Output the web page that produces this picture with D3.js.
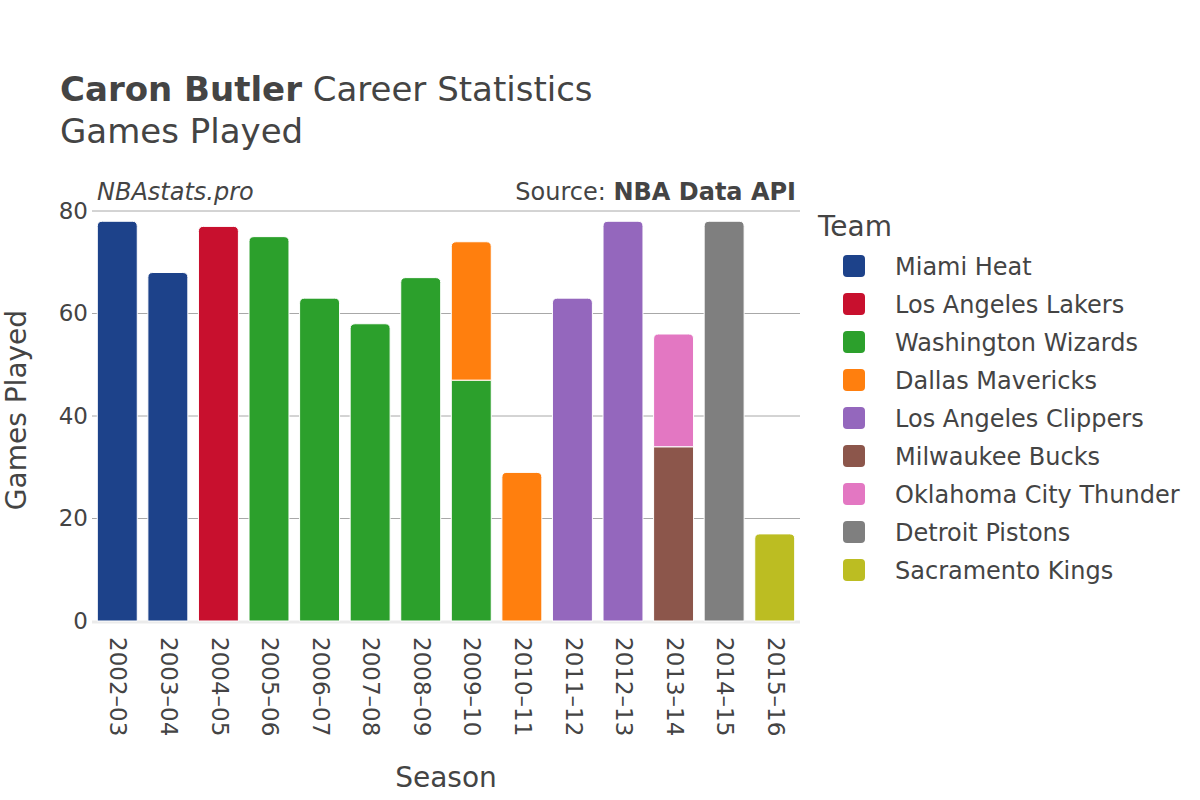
<!DOCTYPE html>
<html>
<head>
<meta charset="utf-8">
<script src="https://cdn.jsdelivr.net/npm/d3@7"></script>
<style>
  body { margin: 0; background: #fff; }
  text { font-family: "DejaVu Sans", sans-serif; fill: #444; }
</style>
</head>
<body>
<svg id="chart" width="1200" height="800"></svg>
<script>
// seasons on the x axis
var seasons = ["2002–03", "2003–04", "2004–05", "2005–06", "2006–07", "2007–08", "2008–09",
               "2009–10", "2010–11", "2011–12", "2012–13", "2013–14", "2014–15", "2015–16"];

var teams = ["Miami Heat", "Los Angeles Lakers", "Washington Wizards", "Dallas Mavericks",
             "Los Angeles Clippers", "Milwaukee Bucks", "Oklahoma City Thunder",
             "Detroit Pistons", "Sacramento Kings"];

var teamColors = ["#1d428a", "#c8102e", "#2ca02c", "#ff7f0e", "#9467bd",
                  "#8c564b", "#e377c2", "#7f7f7f", "#bcbd22"];

// games played per season, one array per team
var miamiHeat      = [78, 68, 0, 0, 0, 0, 0, 0, 0, 0, 0, 0, 0, 0];
var laLakers       = [0, 0, 77, 0, 0, 0, 0, 0, 0, 0, 0, 0, 0, 0];
var wizards        = [0, 0, 0, 75, 63, 58, 67, 47, 0, 0, 0, 0, 0, 0];
var mavericks      = [0, 0, 0, 0, 0, 0, 0, 27, 29, 0, 0, 0, 0, 0];
var clippers       = [0, 0, 0, 0, 0, 0, 0, 0, 0, 63, 78, 0, 0, 0];
var bucks          = [0, 0, 0, 0, 0, 0, 0, 0, 0, 0, 0, 34, 0, 0];
var thunder        = [0, 0, 0, 0, 0, 0, 0, 0, 0, 0, 0, 22, 0, 0];
var pistons        = [0, 0, 0, 0, 0, 0, 0, 0, 0, 0, 0, 0, 78, 0];
var kings          = [0, 0, 0, 0, 0, 0, 0, 0, 0, 0, 0, 0, 0, 17];

var yTicks = [0, 20, 40, 60, 80];

var teamGames = [miamiHeat, laLakers, wizards, mavericks, clippers, bucks, thunder, pistons, kings];

// build rows for d3.stack
var rows = seasons.map(function(s, i) {
    var r = { season: s };
    teams.forEach(function(t, j) { r[t] = teamGames[j][i]; });
    return r;
});

var svg = d3.select("#chart");
var plotLeft = 92, plotRight = 800, plotTop = 211, plotBottom = 621;

var x = d3.scaleBand().domain(seasons).range([plotLeft, plotRight]).paddingInner(0.21).paddingOuter(0.105);
var y = d3.scaleLinear().domain([0, 80]).range([plotBottom, plotTop]);
var color = d3.scaleOrdinal().domain(teams).range(teamColors);

// grid lines
svg.append("g").selectAll("line")
    .data(yTicks.filter(function(d) { return d > 0; }))
    .enter().append("line")
    .attr("x1", plotLeft).attr("x2", plotRight)
    .attr("y1", function(d) { return y(d); })
    .attr("y2", function(d) { return y(d); })
    .attr("stroke", "#a8a8a8").attr("stroke-width", 1);

// zero line
svg.append("line")
    .attr("x1", plotLeft).attr("x2", plotRight)
    .attr("y1", y(0) + 1).attr("y2", y(0) + 1)
    .attr("stroke", "#ebebeb").attr("stroke-width", 3);

// y axis
var yAxis = svg.append("g")
    .attr("transform", "translate(" + plotLeft + ",0)")
    .call(d3.axisLeft(y).tickValues(yTicks).tickSize(0).tickPadding(4));
yAxis.select(".domain").remove();
yAxis.selectAll("text").style("font-size", "23px").attr("fill", "#444")
    .style("font-family", '"DejaVu Sans", sans-serif');

// stacked bars
var stack = d3.stack().keys(teams);
var series = stack(rows);

// find topmost non-zero team per season so only it gets rounded corners
var topTeam = seasons.map(function(s, i) {
    var last = -1;
    teams.forEach(function(t, j) { if (teamGames[j][i] > 0) last = j; });
    return last;
});

function barPath(x0, w, y0, y1, rounded) {
    var r = rounded ? Math.min(5, w / 2, (y0 - y1)) : 0;
    return "M" + x0 + "," + y0 +
        "V" + (y1 + r) +
        (r ? "Q" + x0 + "," + y1 + " " + (x0 + r) + "," + y1 : "") +
        "H" + (x0 + w - r) +
        (r ? "Q" + (x0 + w) + "," + y1 + " " + (x0 + w) + "," + (y1 + r) : "") +
        "V" + y0 + "Z";
}

svg.append("g").selectAll("g")
    .data(series)
    .enter().append("g")
    .attr("fill", function(d) { return color(d.key); })
    .each(function(ser, j) {
        d3.select(this).selectAll("path")
            .data(ser.map(function(d, i) { return { d: d, i: i }; })
                .filter(function(o) { return o.d[1] - o.d[0] > 0; }))
            .enter().append("path")
            .attr("d", function(o) {
                return barPath(x(seasons[o.i]), x.bandwidth(), y(o.d[0]), y(o.d[1]), topTeam[o.i] === j);
            })
            .attr("stroke", "#fff").attr("stroke-width", 1);
    });

// x axis labels
var xAxis = svg.append("g")
    .attr("transform", "translate(0," + (plotBottom + 16) + ")")
    .call(d3.axisBottom(x).tickSize(0).tickPadding(0));
xAxis.select(".domain").remove();
xAxis.selectAll("text")
    .style("font-size", "23px").attr("fill", "#444")
    .style("font-family", '"DejaVu Sans", sans-serif')
    .attr("text-anchor", "start")
    .attr("transform", "rotate(90)")
    .attr("x", 0).attr("y", 0).attr("dy", "0.3em");

// axis titles
svg.append("text").attr("x", (plotLeft + plotRight) / 2 + 0).attr("y", 787)
    .attr("text-anchor", "middle").style("font-size", "28px").text("Season");
svg.append("text").attr("transform", "translate(26,410) rotate(-90)")
    .attr("text-anchor", "middle").style("font-size", "28px").text("Games Played");

// titles
var title = svg.append("text").attr("x", 60).attr("y", 101).style("font-size", "34px");
title.append("tspan").style("font-weight", "bold").text("Caron Butler");
title.append("tspan").text(" Career Statistics");
svg.append("text").attr("x", 60).attr("y", 143).style("font-size", "34px").text("Games Played");

svg.append("text").attr("x", 97).attr("y", 200).style("font-size", "24px")
    .style("font-style", "italic").text("NBAstats.pro");
var src = svg.append("text").attr("x", 796).attr("y", 200).attr("text-anchor", "end")
    .style("font-size", "24px");
src.append("tspan").text("Source: ");
src.append("tspan").style("font-weight", "bold").text("NBA Data API");

// legend
var legend = svg.append("g").attr("transform", "translate(818,0)");
legend.append("text").attr("x", 0).attr("y", 236).style("font-size", "28px").text("Team");
var items = legend.selectAll("g.item").data(teams).enter().append("g")
    .attr("class", "item")
    .attr("transform", function(d, i) { return "translate(0," + (266 + i * 38) + ")"; });
items.append("rect").attr("x", 25).attr("y", -11).attr("width", 22).attr("height", 22)
    .attr("rx", 4).attr("fill", function(d) { return color(d); });
items.append("text").attr("x", 77).attr("y", 0).attr("dy", "0.36em")
    .style("font-size", "24px").text(function(d) { return d; });
</script>
</body>
</html>
